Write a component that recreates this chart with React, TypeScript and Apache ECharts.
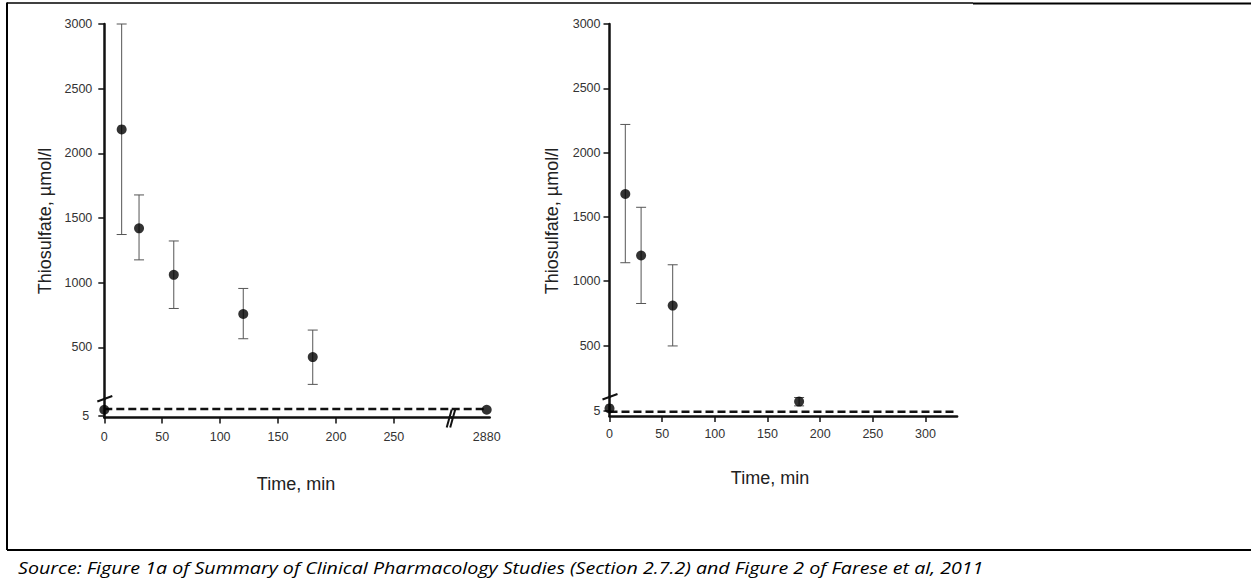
import React, { useEffect, useRef } from "react";
import * as echarts from "echarts";

// ---------- Panel A (Figure 1a) ----------
const timesA = [15, 30, 60, 120, 180];
const meanA = [2185, 1420, 1060, 757, 424];
const lowA = [1372, 1176, 800, 566, 213];
const highA = [3000, 1678, 1322, 955, 633];
const baseTimesA = [0];
const baseMeanA = [6.8];
const lateTimesA = [2880];
const lateMeanA = [6.8];
const lloqA = 7;

// ---------- Panel B (Figure 2, Farese et al) ----------
const timesB = [15, 30, 60];
const meanB = [1678, 1200, 811];
const lowB = [1144, 827, 497];
const highB = [2219, 1575, 1128];
const lowTimesB = [0, 180];
const lowMeanB = [6.0, 8.7];
const errTimesB = [180];
const errLowB = [7.0];
const errHighB = [10.3];
const lloqB = 4.7;

// ---------- Tick labels ----------
const yTicksUpper = [500, 1000, 1500, 2000, 2500, 3000];
const yTicksLower = [5];
const xTicksA = [0, 50, 100, 150, 200, 250];
const xTicksABreak = [2880];
const xTicksB = [0, 50, 100, 150, 200, 250, 300];

const yAxisName = "Thiosulfate, µmol/l";
const xAxisName = "Time, min";
const sourceText =
  "Source: Figure 1a of Summary of Clinical Pharmacology Studies (Section 2.7.2) and Figure 2 of Farese et al, 2011";

const FONT = "'Liberation Sans', Arial, sans-serif";
const INK = "#111";

const errorBarRender = (params: any, api: any) => {
  const x = api.value(0);
  const lo = api.value(1);
  const hi = api.value(2);
  const pLo = api.coord([x, lo]);
  const pHi = api.coord([x, hi]);
  const hw = 5;
  const style = { stroke: "#555", lineWidth: 1, fill: null };
  return {
    type: "group",
    children: [
      { type: "line", shape: { x1: pLo[0], y1: pLo[1], x2: pHi[0], y2: pHi[1] }, style },
      { type: "line", shape: { x1: pLo[0] - hw, y1: pLo[1], x2: pLo[0] + hw, y2: pLo[1] }, style },
      { type: "line", shape: { x1: pHi[0] - hw, y1: pHi[1], x2: pHi[0] + hw, y2: pHi[1] }, style },
    ],
  };
};

const labelStyle = {
  color: "#333",
  fontSize: 12.5,
  fontFamily: FONT,
  formatter: (v: number) => String(v),
};

function xAxisVisible(gridIndex: number, min: number, max: number, ticks: number[], margin: number, showTick = true) {
  return {
    type: "value",
    gridIndex,
    min,
    max,
    position: "bottom",
    axisLine: { show: true, onZero: false, lineStyle: { color: INK, width: 2.5 } },
    axisTick: { show: showTick, length: 6, customValues: ticks, lineStyle: { color: INK, width: 1.5 } },
    axisLabel: { ...labelStyle, margin, customValues: ticks },
    splitLine: { show: false },
  };
}

function yAxisVisible(gridIndex: number, min: number, max: number, ticks: number[], margin: number) {
  return {
    type: "value",
    gridIndex,
    min,
    max,
    position: "left",
    axisLine: { show: true, onZero: false, lineStyle: { color: INK, width: 2.5 } },
    axisTick: { show: true, length: 6, customValues: ticks, lineStyle: { color: INK, width: 1.5 } },
    axisLabel: { ...labelStyle, margin, customValues: ticks },
    splitLine: { show: false },
  };
}

function hiddenAxis(gridIndex: number, min: number, max: number) {
  return { type: "value", gridIndex, min, max, show: false, splitLine: { show: false } };
}

const zip = (a: number[], b: number[]) => a.map((v, i) => [v, b[i]]);
const zip3 = (a: number[], b: number[], c: number[]) => a.map((v, i) => [v, b[i], c[i]]);

export default function App() {
  const ref = useRef<HTMLDivElement>(null);

  useEffect(() => {
    document.body.style.margin = "0";
    const chart = echarts.init(ref.current as HTMLDivElement, null, { renderer: "svg" });

    const scatterBase = {
      type: "scatter",
      symbol: "circle",
      symbolSize: 10,
      itemStyle: { color: "#000" },
      clip: false,
      z: 5,
    };
    const dashed = {
      type: "line",
      symbol: "none",
      lineStyle: { color: INK, width: 2.5, type: [8, 4] },
      z: 3,
    };
    const errBase = {
      type: "custom",
      renderItem: errorBarRender,
      encode: { x: 0, y: [1, 2] },
      clip: false,
      z: 4,
    };

    const option: any = {
      animation: false,
      backgroundColor: "#fff",
      grid: [
        { left: 104.3, top: 24, width: 347.4, height: 375 }, // A upper
        { left: 104.3, top: 399, width: 347.4, height: 18.5 }, // A lower
        { left: 451.7, top: 399, width: 38, height: 18.5 }, // A lower, after break
        { left: 609.5, top: 24, width: 347.6, height: 373 }, // B upper
        { left: 609.5, top: 397, width: 347.6, height: 19 }, // B lower
      ],
      xAxis: [
        hiddenAxis(0, 0, 300),
        xAxisVisible(1, 0, 300, xTicksA, 13),
        xAxisVisible(2, 2845, 2883, xTicksABreak, 13, false),
        hiddenAxis(3, 0, 330),
        xAxisVisible(4, 0, 330, xTicksB, 11),
      ],
      yAxis: [
        yAxisVisible(0, 100, 3000, yTicksUpper, 12),
        yAxisVisible(1, 4.5, 10, yTicksLower, 15),
        hiddenAxis(2, 4.5, 10),
        yAxisVisible(3, 100, 3000, yTicksUpper, 9),
        yAxisVisible(4, 3, 10.5, yTicksLower, 9),
      ],
      series: [
        // Panel A
        { ...errBase, xAxisIndex: 0, yAxisIndex: 0, data: zip3(timesA, lowA, highA) },
        { ...scatterBase, xAxisIndex: 0, yAxisIndex: 0, data: zip(timesA, meanA) },
        { ...dashed, xAxisIndex: 1, yAxisIndex: 1, data: [[0, lloqA], [300, lloqA]] },
        { ...scatterBase, xAxisIndex: 1, yAxisIndex: 1, data: zip(baseTimesA, baseMeanA) },
        { ...dashed, xAxisIndex: 2, yAxisIndex: 2, data: [[2845, lloqA], [2880, lloqA]] },
        { ...scatterBase, xAxisIndex: 2, yAxisIndex: 2, data: zip(lateTimesA, lateMeanA) },
        // Panel B
        { ...errBase, xAxisIndex: 3, yAxisIndex: 3, data: zip3(timesB, lowB, highB) },
        { ...scatterBase, xAxisIndex: 3, yAxisIndex: 3, data: zip(timesB, meanB) },
        { ...dashed, xAxisIndex: 4, yAxisIndex: 4, data: [[0, lloqB], [330, lloqB]] },
        { ...errBase, xAxisIndex: 4, yAxisIndex: 4, data: zip3(errTimesB, errLowB, errHighB) },
        { ...scatterBase, xAxisIndex: 4, yAxisIndex: 4, data: zip(lowTimesB, lowMeanB) },
      ],
    };

    chart.setOption(option);

    // Break marks located from the axes' own scales
    const yBreakA = chart.convertToPixel({ gridIndex: 0 } as any, [0, 100]) as number[];
    const yBreakB = chart.convertToPixel({ gridIndex: 3 } as any, [0, 100]) as number[];
    const xBreakA = chart.convertToPixel({ gridIndex: 1 } as any, [300, 4.5]) as number[];

    const breakStyle = { stroke: INK, lineWidth: 2 };
    const slash = (p: number[]) => ({
      type: "line",
      shape: { x1: p[0] - 7, y1: p[1] + 2.5, x2: p[0] + 8, y2: p[1] - 3 },
      style: breakStyle,
      z: 10,
    });

    const frameStyle = { stroke: "#000", lineWidth: 2 };

    chart.setOption({
      graphic: [
        // frame (table borders)
        { type: "line", shape: { x1: 7, y1: 3, x2: 973, y2: 3 }, style: { stroke: "#000", lineWidth: 1.5 } },
        { type: "line", shape: { x1: 973, y1: 3.5, x2: 1251, y2: 3.5 }, style: frameStyle },
        { type: "line", shape: { x1: 7, y1: 2.5, x2: 7, y2: 550 }, style: frameStyle },
        { type: "line", shape: { x1: 7, y1: 550, x2: 1251, y2: 550 }, style: frameStyle },
        // axis breaks
        slash(yBreakA),
        slash(yBreakB),
        {
          type: "line",
          shape: { x1: xBreakA[0] - 5, y1: xBreakA[1] + 10, x2: xBreakA[0], y2: xBreakA[1] - 8 },
          style: breakStyle,
          z: 10,
        },
        {
          type: "line",
          shape: { x1: xBreakA[0] - 1.5, y1: xBreakA[1] + 10, x2: xBreakA[0] + 3.5, y2: xBreakA[1] - 8 },
          style: breakStyle,
          z: 10,
        },
        // axis names
        {
          type: "text",
          x: 45,
          y: 221,
          rotation: Math.PI / 2,
          style: { text: yAxisName, fill: "#222", fontSize: 18, fontFamily: FONT, align: "center", verticalAlign: "middle" },
        },
        {
          type: "text",
          x: 552,
          y: 221,
          rotation: Math.PI / 2,
          style: { text: yAxisName, fill: "#222", fontSize: 18, fontFamily: FONT, align: "center", verticalAlign: "middle" },
        },
        {
          type: "text",
          x: 296,
          y: 484,
          style: { text: xAxisName, fill: "#222", fontSize: 18, fontFamily: FONT, align: "center", verticalAlign: "middle" },
        },
        {
          type: "text",
          x: 770,
          y: 478,
          style: { text: xAxisName, fill: "#222", fontSize: 18, fontFamily: FONT, align: "center", verticalAlign: "middle" },
        },
        // source caption
        {
          type: "text",
          x: 18,
          y: 567.5,
          scaleX: 1.155,
          style: {
            text: sourceText,
            fill: "#000",
            fontSize: 17,
            fontStyle: "italic",
            fontFamily: "'Open Sans', 'Noto Sans', sans-serif",
            align: "left",
            verticalAlign: "middle",
          },
        },
      ],
    });

    return () => chart.dispose();
  }, []);

  return <div ref={ref} style={{ width: 1251, height: 585 }} />;
}
